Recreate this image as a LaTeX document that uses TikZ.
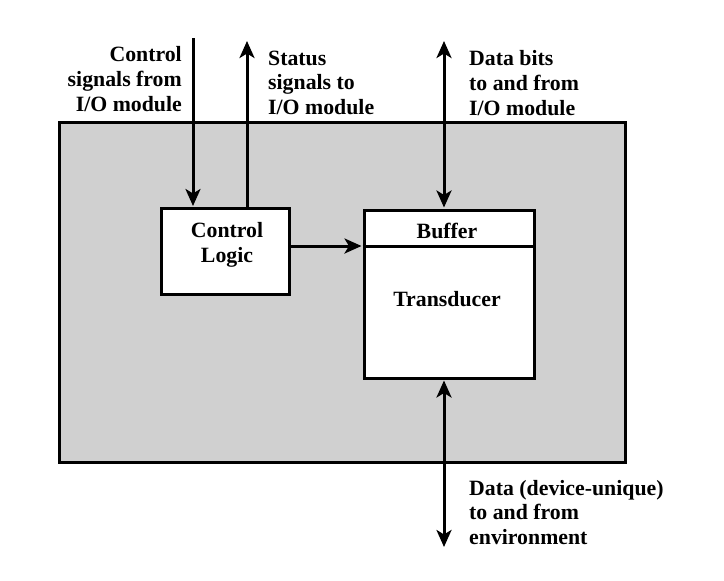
\documentclass[tikz,border=0pt]{standalone}
\usepackage{fontspec}
\setmainfont{Liberation Serif}
\usetikzlibrary{arrows.meta}
\definecolor{boxgray}{HTML}{D0D0D0}
\begin{document}
\begin{tikzpicture}[x=1pt,y=-1pt,
  lbl/.style={inner sep=0pt,font=\bfseries\fontsize{21.8}{24.6}\selectfont},
  blk/.style={draw,line width=3pt,fill=white,inner sep=0pt},
  tip/.tip={Stealth[length=17pt,width=15pt,inset=4.5pt]},
  arr/.style={line width=3pt,-tip,shorten >=1pt},
  dbl/.style={line width=3pt,tip-tip,shorten >=1pt,shorten <=1pt}]
\useasboundingbox (0,0) rectangle (724,581);
% outer module
\node[draw,line width=3pt,fill=boxgray,inner sep=0pt,minimum width=566pt,minimum height=340pt] (outer) at (342,292) {};
% control logic
\node[blk,minimum width=128pt,minimum height=86pt] (ctrl) at (225.5,251.5) {};
% buffer / transducer
\node[blk,minimum width=170pt,minimum height=168pt] (buf) at (449,294) {};
\coordinate (divl) at (364,246);
\coordinate (divr) at (534,246);
\draw[line width=3pt] (divl -| buf.west) -- (divr -| buf.east);
% texts inside
\node[lbl,anchor=north,align=center] (ctrltxt) at (227,222.5) {Control\\Logic};
\node[lbl,anchor=north] (buftxt) at (447,223) {Buffer};
\node[lbl,anchor=north] (trtxt) at (447,291.5) {Transducer};
% outside labels
\node[lbl,anchor=north east,align=right] (lctrl) at (182,46.5) {Control\\signals from\\I/O module};
\node[lbl,anchor=north west,align=left] (lstat) at (268,50.5) {Status\\signals to\\I/O module};
\node[lbl,anchor=north west,align=left] (ldata) at (469,50.5) {Data bits\\to and from\\I/O module};
\node[lbl,anchor=north west,align=left] (lenv) at (469,480) {Data (device-unique)\\to and from\\environment};
% connectors
\coordinate (cin) at (193,38);
\draw[arr] (cin) -- (cin |- ctrl.north);
\coordinate (sout) at (247,40);
\draw[arr] (sout |- ctrl.north) -- (sout);
\coordinate (dtop) at (444,40);
\draw[dbl] (dtop) -- (dtop |- buf.north);
\coordinate (dbot) at (444,548);
\draw[dbl] (dbot |- buf.south) -- (dbot);
\draw[arr] (ctrl.east |- divl) -- (divl -| buf.west);
\end{tikzpicture}
\end{document}
